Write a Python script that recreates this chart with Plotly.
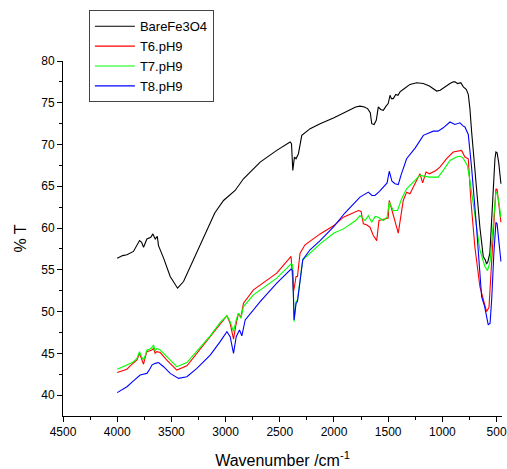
import plotly.graph_objects as go

# --- data ---
wn_bare = [4000, 3950, 3910, 3850, 3794, 3775, 3757, 3740, 3726, 3690, 3671, 3649, 3630, 3619,
           3572, 3511, 3443, 3388, 3296, 3173, 3100, 3019, 2942, 2912, 2835, 2681, 2528, 2405,
           2392, 2380, 2365, 2350, 2328, 2297, 2220, 2128, 2000, 1900, 1800, 1760, 1720, 1690,
           1665, 1652, 1630, 1610, 1591, 1570, 1545, 1520, 1500, 1483, 1470, 1453, 1430, 1410,
           1391, 1350, 1299, 1237, 1176, 1120, 1053, 1020, 970, 930, 900, 884, 860, 830, 807,
           780, 761, 746, 730, 700, 685, 654, 623, 605, 592, 580, 562, 545, 531, 515, 506, 495,
           480, 460]
t_bare = [56.4, 56.7, 56.8, 57.2, 58.5, 58.3, 57.7, 58.3, 58.7, 58.9, 59.3, 58.7, 59.0, 57.9,
          56.4, 54.2, 52.8, 53.6, 56.2, 59.7, 61.8, 63.3, 64.1, 64.5, 65.9, 67.9, 69.3, 70.3,
          70.1, 66.9, 68.5, 68.3, 68.9, 71.1, 71.9, 72.5, 73.2, 73.9, 74.5, 74.6, 74.5, 74.3,
          73.8, 72.5, 72.4, 72.9, 74.5, 74.2, 74.1, 74.6, 74.9, 75.9, 75.5, 75.5, 76.0, 75.9,
          76.3, 76.7, 77.2, 77.4, 77.3, 77.0, 76.4, 76.5, 77.0, 77.3, 77.5, 77.5, 77.3, 77.4,
          76.9, 76.6, 76.0, 74.3, 71.5, 66.9, 64.5, 60.1, 56.6, 56.2, 55.7, 56.0, 57.0, 61.0,
          65.5, 68.3, 69.1, 69.0, 67.8, 65.3]

wn_t6 = [4000, 3950, 3910, 3880, 3818, 3794, 3775, 3757, 3740, 3726, 3700, 3680, 3665, 3650,
         3634, 3603, 3542, 3450, 3357, 3265, 3142, 3050, 2988, 2958, 2927, 2902, 2881, 2859,
         2835, 2743, 2528, 2396, 2374, 2362, 2350, 2337, 2313, 2267, 2128, 2000, 1913, 1775,
         1750, 1729, 1700, 1668, 1637, 1606, 1585, 1560, 1530, 1500, 1490, 1459, 1430, 1407,
         1361, 1330, 1299, 1250, 1207, 1182, 1151, 1120, 1060, 1023, 961, 900, 850, 823, 792,
         761, 737, 700, 654, 623, 592, 570, 546, 520, 506, 495, 480, 460]
t_t6 = [42.7, 42.9, 43.1, 43.5, 44.2, 45.0, 44.4, 43.7, 44.6, 45.2, 45.3, 45.4, 45.6, 45.0,
        45.2, 45.1, 44.2, 43.0, 43.5, 45.0, 47.0, 48.6, 49.5, 48.6, 46.7, 48.6, 49.8, 49.3,
        51.0, 52.6, 54.6, 56.6, 52.4, 53.2, 54.2, 54.2, 57.0, 58.0, 59.3, 60.3, 61.3, 62.1,
        62.0, 60.5, 60.4, 60.1, 59.1, 58.5, 60.9, 61.0, 61.1, 61.2, 63.3, 61.9, 60.6, 59.4,
        63.3, 64.3, 64.1, 65.3, 66.5, 65.4, 66.7, 66.5, 66.9, 67.3, 68.3, 69.1, 69.2, 69.3, 68.5,
        68.3, 63.3, 57.7, 53.0, 51.4, 50.0, 50.5, 55.4, 62.0, 64.7, 64.6, 63.2, 60.7]

wn_t7 = [4000, 3950, 3910, 3860, 3818, 3794, 3775, 3757, 3740, 3726, 3700, 3680, 3665, 3650,
         3634, 3603, 3542, 3450, 3357, 3265, 3142, 3050, 2988, 2958, 2927, 2902, 2881, 2859,
         2835, 2743, 2528, 2396, 2381, 2368, 2350, 2337, 2288, 2128, 2000, 1913, 1800, 1760,
         1714, 1683, 1652, 1620, 1591, 1545, 1510, 1490, 1453, 1414, 1376, 1330, 1299, 1207,
         1120, 1038, 992, 930, 870, 838, 810, 792, 770, 746, 700, 654, 608, 583, 560, 546, 525,
         506, 495, 480, 460]
t_t7 = [43.1, 43.4, 43.6, 43.9, 44.4, 45.2, 44.6, 44.2, 44.8, 45.4, 45.5, 45.7, 46.0, 45.3,
        45.6, 45.4, 44.6, 43.4, 43.9, 45.3, 47.1, 48.7, 49.5, 48.8, 47.6, 49.0, 49.8, 49.2,
        50.6, 52.0, 54.0, 55.7, 55.6, 48.8, 51.2, 51.4, 56.2, 58.1, 59.4, 59.9, 60.9, 61.5,
        60.9, 61.5, 60.7, 61.4, 61.3, 60.9, 61.3, 63.1, 62.1, 62.1, 63.5, 64.7, 65.1, 66.3,
        66.1, 66.1, 66.9, 68.1, 68.5, 68.6, 68.4, 67.9, 67.5, 65.7, 61.3, 57.4, 55.4, 54.9,
        56.0, 58.1, 62.0, 64.3, 64.2, 63.2, 61.3]

wn_t8 = [4000, 3910, 3850, 3788, 3760, 3726, 3700, 3680, 3649, 3619, 3572, 3511, 3434, 3357,
         3265, 3142, 3050, 2988, 2958, 2927, 2902, 2872, 2850, 2819, 2681, 2528, 2396, 2381,
         2368, 2350, 2337, 2288, 2221, 2128, 2000, 1900, 1760, 1683, 1650, 1622, 1580, 1545,
         1510, 1490, 1465, 1437, 1407, 1380, 1330, 1250, 1207, 1176, 1084, 1040, 992, 930, 884,
         838, 807, 792, 761, 731, 685, 638, 610, 590, 577, 560, 545, 525, 506, 495, 480, 460]
t_t8 = [40.3, 41.0, 41.7, 42.4, 42.5, 42.6, 43.1, 43.6, 43.8, 43.9, 43.4, 42.6, 42.0, 42.2,
        43.2, 44.8, 46.4, 47.6, 47.0, 45.0, 47.0, 47.8, 47.1, 49.0, 51.2, 53.4, 55.1, 54.9,
        49.0, 51.0, 51.2, 56.2, 57.4, 58.5, 60.2, 61.8, 63.7, 64.3, 63.9, 63.9, 64.4, 64.9,
        65.4, 66.8, 65.6, 65.3, 65.2, 66.4, 68.3, 69.6, 70.5, 71.1, 71.6, 71.6, 72.0, 72.7, 72.4,
        72.6, 72.2, 72.1, 71.2, 67.3, 60.1, 51.8, 50.6, 49.3, 48.4, 48.6, 51.5, 57.0, 60.7,
        60.5, 58.8, 56.0]

names = ["BareFe3O4", "T6.pH9", "T7.pH9", "T8.pH9"]
colors = ["#000000", "#ff0000", "#00ff00", "#0000ff"]
xs = [wn_bare, wn_t6, wn_t7, wn_t8]
ys = [t_bare, t_t6, t_t7, t_t8]

fig = go.Figure()
for x, y, n, c in zip(xs, ys, names, colors):
    fig.add_trace(go.Scatter(x=x, y=y, mode="lines", name=n,
                             line=dict(color=c, width=1.1)))

axis_common = dict(showgrid=False, zeroline=False, showline=True, linecolor="black",
                   linewidth=1, ticks="outside", ticklen=5, tickwidth=1, tickcolor="black",
                   tickfont=dict(family="Arial, Liberation Sans, sans-serif", size=12, color="black"),
                   mirror=False, automargin=False)

fig.update_layout(
    width=507, height=469,
    margin=dict(l=63, r=5, t=61, b=53),
    paper_bgcolor="white", plot_bgcolor="white",
    font=dict(family="Arial, Liberation Sans, sans-serif", color="black"),
    xaxis=dict(range=[4500, 450], tickmode="array",
               tickvals=[4500, 4000, 3500, 3000, 2500, 2000, 1500, 1000, 500],
               minor=dict(tickmode="array",
                          tickvals=[4250, 3750, 3250, 2750, 2250, 1750, 1250, 750],
                          ticks="outside", ticklen=3, tickcolor="black"),
               title=dict(text="Wavenumber /cm<sup>-1</sup>", font=dict(size=16), standoff=18),
               **axis_common),
    yaxis=dict(range=[37.5, 80], tickmode="array",
               tickvals=[40, 45, 50, 55, 60, 65, 70, 75, 80],
               minor=dict(tickmode="array",
                          tickvals=[42.5, 47.5, 52.5, 57.5, 62.5, 67.5, 72.5, 77.5],
                          ticks="outside", ticklen=3, tickcolor="black"),
               title=dict(text="% T", font=dict(size=16), standoff=10),
               **axis_common),
    legend=dict(x=0.059, y=1.143, xanchor="left", yanchor="top",
                bgcolor="white", bordercolor="#444444", borderwidth=1,
                font=dict(size=13), tracegroupgap=0, itemwidth=40),
    showlegend=True,
)

fig.write_html("out.html", config={"displayModeBar": False},
               post_script="document.body.style.margin='0';document.body.style.overflow='hidden';")
